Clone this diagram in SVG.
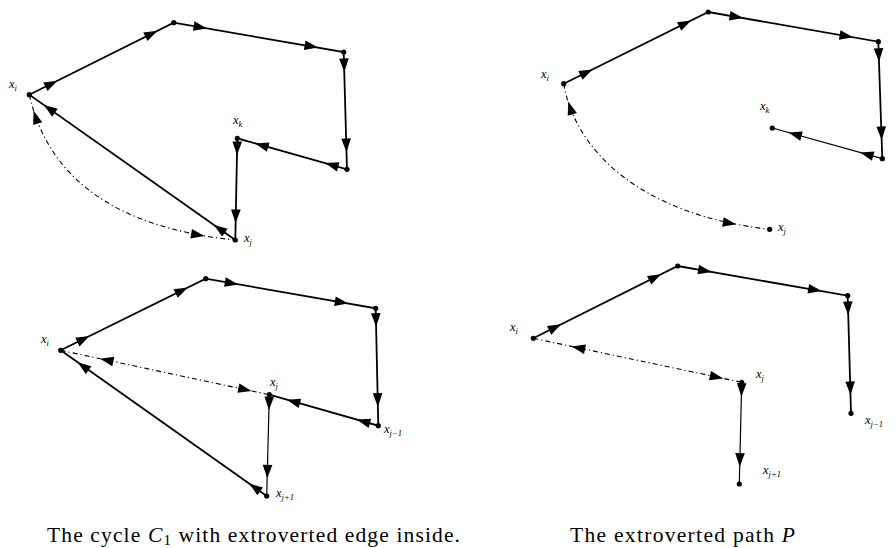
<svg xmlns="http://www.w3.org/2000/svg" xmlns:xlink="http://www.w3.org/1999/xlink" width="895" height="548" viewBox="0 0 895 548">
<style>
.e{fill:none;stroke:#000;stroke-width:1.8;stroke-linecap:round}
.t{fill:none;stroke:#000;stroke-width:1.2;stroke-linecap:round}
.d{fill:none;stroke:#000;stroke-width:1.1;stroke-dasharray:5 3 1.2 3}
.n{fill:#000}
.lb{font-family:"Liberation Serif","DejaVu Serif",serif;font-style:italic;font-size:12.5px;fill:#000}
.sb{font-size:8.5px}
.cap{font-family:"Liberation Serif","DejaVu Serif",serif;font-size:21.5px;fill:#000}
</style>
<defs>
<path id="ah" d="M0,0 L-13.5,-4.8 L-13.5,4.8 Z" fill="#000"/>
</defs>
<rect width="895" height="548" fill="#fff"/>

<g id="connectors">
<!-- panel 1 -->
<path class="e" d="M29.3,94.7 L173.7,22.7 L343.7,52 L347,169.3 L237.3,138.3 L235.3,240 Z"/>
<path class="d" d="M29.3,94.7 Q58,222 235.3,240"/>
<use xlink:href="#ah" transform="translate(57.5,80.7) rotate(-26.5)"/>
<use xlink:href="#ah" transform="translate(157.5,30.8) rotate(-26.5)"/>
<use xlink:href="#ah" transform="translate(207,28.4) rotate(9.8)"/>
<use xlink:href="#ah" transform="translate(318,47.6) rotate(9.8)"/>
<use xlink:href="#ah" transform="translate(344.3,72) rotate(88.4)"/>
<use xlink:href="#ah" transform="translate(346.5,152) rotate(88.4)"/>
<use xlink:href="#ah" transform="translate(325.2,163.1) rotate(-164.2)"/>
<use xlink:href="#ah" transform="translate(255.2,143.4) rotate(-164.2)"/>
<use xlink:href="#ah" transform="translate(237,155) rotate(91.1)"/>
<use xlink:href="#ah" transform="translate(235.6,223) rotate(91.1)"/>
<use xlink:href="#ah" transform="translate(213.9,224.9) rotate(-144.8)"/>
<use xlink:href="#ah" transform="translate(43.9,105) rotate(-144.8)"/>
<use xlink:href="#ah" transform="translate(204.5,235.9) rotate(9.6)"/>
<use xlink:href="#ah" transform="translate(33.6,110.8) rotate(-107.7)"/>

<!-- panel 2 -->
<path class="e" d="M563.7,83.7 L708.3,12 L878.3,41.7 L882.3,158.7"/>
<path class="t" d="M882.3,158.7 L772.3,128"/>
<path class="d" d="M563.7,83.7 C575,150 640,215 769.7,229.3"/>
<use xlink:href="#ah" transform="translate(592.5,69.4) rotate(-26.4)"/>
<use xlink:href="#ah" transform="translate(691.2,20.5) rotate(-26.4)"/>
<use xlink:href="#ah" transform="translate(743,18.1) rotate(9.9)"/>
<use xlink:href="#ah" transform="translate(853,37.3) rotate(9.9)"/>
<use xlink:href="#ah" transform="translate(879,61.7) rotate(88)"/>
<use xlink:href="#ah" transform="translate(881.7,140) rotate(88)"/>
<use xlink:href="#ah" transform="translate(860.2,152.5) rotate(-164.4)"/>
<use xlink:href="#ah" transform="translate(788.5,132.5) rotate(-164.4)"/>
<use xlink:href="#ah" transform="translate(736.2,224.3) rotate(10)"/>
<use xlink:href="#ah" transform="translate(568.2,101.5) rotate(-107.8)"/>

<!-- panel 3 -->
<path class="e" d="M60.7,350.3 L205.7,278.7 L375.7,308.3 L378.3,425.7 L269.3,394.7"/>
<path class="t" d="M269.3,394.7 L266.7,496"/>
<path class="e" d="M266.7,496 L60.7,350.3"/>
<path class="d" d="M60.7,350.3 L269.3,394.7"/>
<use xlink:href="#ah" transform="translate(89.5,336.1) rotate(-26.3)"/>
<use xlink:href="#ah" transform="translate(187.8,287.5) rotate(-26.3)"/>
<use xlink:href="#ah" transform="translate(238.2,284.4) rotate(9.9)"/>
<use xlink:href="#ah" transform="translate(348.2,303.5) rotate(9.9)"/>
<use xlink:href="#ah" transform="translate(376.1,326.7) rotate(88.7)"/>
<use xlink:href="#ah" transform="translate(377.9,406.7) rotate(88.7)"/>
<use xlink:href="#ah" transform="translate(356.9,419.6) rotate(-164.1)"/>
<use xlink:href="#ah" transform="translate(286.9,399.7) rotate(-164.1)"/>
<use xlink:href="#ah" transform="translate(268.9,410) rotate(91.5)"/>
<use xlink:href="#ah" transform="translate(267.2,478.3) rotate(91.5)"/>
<use xlink:href="#ah" transform="translate(249.2,483.6) rotate(-144.7)"/>
<use xlink:href="#ah" transform="translate(77.6,362.3) rotate(-144.7)"/>
<use xlink:href="#ah" transform="translate(100.1,358.7) rotate(192)"/>
<use xlink:href="#ah" transform="translate(251.6,390.9) rotate(12)"/>

<!-- panel 4 -->
<path class="e" d="M533.3,338.3 L677.7,266 L847.7,295.7 L851,413.3"/>
<path class="t" d="M741.7,382.3 L739.3,484"/>
<path class="d" d="M533.3,338.3 L741.7,382.3"/>
<use xlink:href="#ah" transform="translate(561.2,324.3) rotate(-26.6)"/>
<use xlink:href="#ah" transform="translate(661.2,274.2) rotate(-26.6)"/>
<use xlink:href="#ah" transform="translate(711.6,271.9) rotate(9.9)"/>
<use xlink:href="#ah" transform="translate(821.6,291.1) rotate(9.9)"/>
<use xlink:href="#ah" transform="translate(848.2,315) rotate(88.4)"/>
<use xlink:href="#ah" transform="translate(850.5,395) rotate(88.4)"/>
<use xlink:href="#ah" transform="translate(741.4,396.7) rotate(91.4)"/>
<use xlink:href="#ah" transform="translate(739.7,466.7) rotate(91.4)"/>
<use xlink:href="#ah" transform="translate(571.8,346.4) rotate(191.9)"/>
<use xlink:href="#ah" transform="translate(723.2,378.4) rotate(11.9)"/>
</g>

<!-- panel 1 nodes -->
<g id="p1-xi"><circle class="n" cx="29.3" cy="94.7" r="2.6"/><text class="lb" x="9" y="88">x<tspan class="sb" dy="2.5">i</tspan></text></g>
<g id="p1-a"><circle class="n" cx="173.7" cy="22.7" r="2.6"/></g>
<g id="p1-b"><circle class="n" cx="343.7" cy="52" r="2.6"/></g>
<g id="p1-c"><circle class="n" cx="347" cy="169.3" r="2.6"/></g>
<g id="p1-xk"><circle class="n" cx="237.3" cy="138.3" r="2.6"/><text class="lb" x="233" y="124">x<tspan class="sb" dy="2.5">k</tspan></text></g>
<g id="p1-xj"><circle class="n" cx="235.3" cy="240" r="2.6"/><text class="lb" x="244" y="242">x<tspan class="sb" dy="2.5">j</tspan></text></g>

<!-- panel 2 nodes -->
<g id="p2-xi"><circle class="n" cx="563.7" cy="83.7" r="2.6"/><text class="lb" x="541" y="78">x<tspan class="sb" dy="2.5">i</tspan></text></g>
<g id="p2-a"><circle class="n" cx="708.3" cy="12" r="2.6"/></g>
<g id="p2-b"><circle class="n" cx="878.3" cy="41.7" r="2.6"/></g>
<g id="p2-c"><circle class="n" cx="882.3" cy="158.7" r="2.6"/></g>
<g id="p2-xk"><circle class="n" cx="772.3" cy="128" r="2.6"/><text class="lb" x="760" y="110">x<tspan class="sb" dy="2.5">k</tspan></text></g>
<g id="p2-xj"><circle class="n" cx="769.7" cy="229.3" r="2.6"/><text class="lb" x="778" y="231">x<tspan class="sb" dy="2.5">j</tspan></text></g>

<!-- panel 3 nodes -->
<g id="p3-xi"><circle class="n" cx="60.7" cy="350.3" r="2.6"/><text class="lb" x="41" y="343">x<tspan class="sb" dy="2.5">i</tspan></text></g>
<g id="p3-a"><circle class="n" cx="205.7" cy="278.7" r="2.6"/></g>
<g id="p3-b"><circle class="n" cx="375.7" cy="308.3" r="2.6"/></g>
<g id="p3-xjm1"><circle class="n" cx="378.3" cy="425.7" r="2.6"/><text class="lb" x="384" y="433">x<tspan class="sb" dy="2.5">j−1</tspan></text></g>
<g id="p3-xj"><circle class="n" cx="269.3" cy="394.7" r="2.6"/><text class="lb" x="270" y="386">x<tspan class="sb" dy="2.5">j</tspan></text></g>
<g id="p3-xjp1"><circle class="n" cx="266.7" cy="496" r="2.6"/><text class="lb" x="276" y="497">x<tspan class="sb" dy="2.5">j+1</tspan></text></g>

<!-- panel 4 nodes -->
<g id="p4-xi"><circle class="n" cx="533.3" cy="338.3" r="2.6"/><text class="lb" x="510" y="331">x<tspan class="sb" dy="2.5">i</tspan></text></g>
<g id="p4-a"><circle class="n" cx="677.7" cy="266" r="2.6"/></g>
<g id="p4-b"><circle class="n" cx="847.7" cy="295.7" r="2.6"/></g>
<g id="p4-xjm1"><circle class="n" cx="851" cy="413.3" r="2.6"/><text class="lb" x="865" y="424">x<tspan class="sb" dy="2.5">j−1</tspan></text></g>
<g id="p4-xj"><circle class="n" cx="741.7" cy="382.3" r="2.6"/><text class="lb" x="756" y="378">x<tspan class="sb" dy="2.5">j</tspan></text></g>
<g id="p4-xjp1"><circle class="n" cx="739.3" cy="484" r="2.6"/><text class="lb" x="763" y="474">x<tspan class="sb" dy="2.5">j+1</tspan></text></g>

<g id="captions">
<text class="cap" x="47" y="542" textLength="413" lengthAdjust="spacing">The cycle <tspan font-style="italic">C</tspan><tspan font-size="15" dy="3">1</tspan><tspan dy="-3"> with extroverted edge inside.</tspan></text>
<text class="cap" x="570" y="542" textLength="225" lengthAdjust="spacing">The extroverted path <tspan font-style="italic">P</tspan></text>
</g>
</svg>
